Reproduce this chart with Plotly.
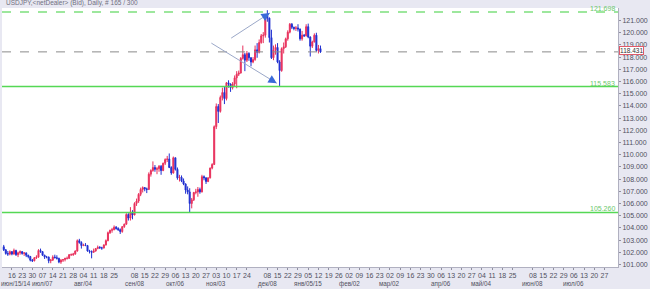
import plotly.graph_objects as go

# ---------------- data (daily USDJPY candles) ----------------
first_bar = -4  # bar index of first candle (Monday of week 0 = index 0, 5 bars per week)

opens = [102.45, 102.2, 101.9, 101.85,
         102.05, 101.85, 102.15, 101.8, 101.95,
         102.05, 101.9, 101.95, 101.75, 101.65,
         101.35, 101.3, 101.55, 101.6, 102.15,
         102.05, 101.75, 101.6, 101.6, 101.3,
         101.35, 101.6, 101.55, 101.5, 101.2,
         101.35, 101.4, 101.5, 101.5, 101.8,
         101.8, 101.85, 102.1, 102.95, 102.8,
         102.55, 102.6, 102.55, 102.1, 102.05,
         102.0, 102.1, 102.3, 102.4, 102.35,
         102.35, 102.6, 102.95, 103.6, 103.8,
         103.85, 104.05, 103.95, 103.85, 103.7,
         104.1, 104.3, 105.1, 104.8, 105.3,
         105.05, 106.0, 106.2, 106.75, 107.15,
         107.3, 107.2, 107.15, 108.4, 108.7,
         108.95, 108.8, 108.85, 109.05, 108.7,
         109.3, 109.6, 109.65, 108.95, 108.5,
         109.75, 108.8, 108.1, 108.15, 107.85,
         107.6, 107.1, 106.95, 106.0, 106.3,
         106.9, 106.95, 107.15, 106.95, 108.2,
         108.1, 107.8, 108.1, 108.9, 109.2,
         112.3, 113.95, 113.55, 114.7, 115.1,
         114.6, 115.9, 115.8, 115.5, 115.8,
         116.3, 116.6, 116.7, 117.9, 118.2,
         117.75, 118.3, 117.95, 117.6, 117.8,
         118.6, 118.4, 119.2, 119.75, 119.8,
         121.4, 121.2, 119.6, 117.95, 118.6,
         118.8, 117.6, 116.9, 118.7, 118.85,
         119.5, 120.05, 120.7, 120.45, 120.35,
         120.4, 120.3, 119.5, 119.8, 119.75,
         120.5, 119.65, 118.9, 119.25, 119.8,
         118.55, 118.7]

highs = [102.6, 102.25, 102.1, 102.15,
         102.1, 102.3, 102.2, 102.05, 102.15,
         102.1, 102.0, 101.95, 101.8, 101.7,
         101.45, 101.6, 101.75, 102.25, 102.3,
         102.1, 101.8, 101.7, 101.65, 101.45,
         101.75, 101.8, 101.75, 101.55, 101.45,
         101.45, 101.55, 101.65, 101.85, 101.9,
         101.95, 102.15, 103.05, 103.1, 102.9,
         102.7, 102.75, 102.6, 102.2, 102.15,
         102.3, 102.35, 102.55, 102.5, 102.45,
         102.65, 103.05, 103.7, 103.85, 104.0,
         104.2, 104.15, 104.05, 103.95, 104.15,
         104.35, 105.2, 105.2, 105.7, 105.45,
         106.1, 106.4, 106.85, 107.3, 107.4,
         107.35, 107.3, 108.55, 108.8, 109.45,
         109.15, 109.0, 109.15, 109.15, 109.35,
         109.7, 109.9, 110.1, 109.05, 109.85,
         109.75, 108.95, 108.35, 108.3, 108.05,
         107.65, 107.4, 107.25, 106.45, 106.95,
         107.2, 107.35, 107.3, 108.35, 108.3,
         108.15, 108.15, 108.95, 109.3, 112.4,
         114.2, 114.15, 114.85, 115.5, 115.55,
         115.95, 116.1, 115.85, 115.95, 116.5,
         116.85, 116.9, 118.0, 118.95, 118.35,
         118.5, 118.4, 118.0, 118.0, 118.95,
         119.15, 119.45, 119.9, 120.05, 121.45,
         121.85, 121.25, 120.25, 118.95, 119.05,
         119.15, 117.75, 118.8, 119.2, 119.6,
         120.2, 120.8, 120.8, 120.5, 120.55,
         120.7, 120.35, 120.15, 119.9, 120.7,
         120.75, 119.7, 119.35, 119.95, 120.0,
         119.0, 118.95]

lows = [102.1, 101.8, 101.7, 101.75,
        101.75, 101.8, 101.7, 101.6, 101.8,
        101.8, 101.7, 101.6, 101.5, 101.25,
        101.2, 101.25, 101.45, 101.55, 101.95,
        101.7, 101.45, 101.5, 101.1, 101.1,
        101.3, 101.5, 101.4, 101.1, 101.05,
        101.2, 101.25, 101.4, 101.45, 101.7,
        101.7, 101.8, 102.05, 102.7, 102.3,
        102.5, 102.5, 102.05, 101.9, 101.5,
        101.95, 102.05, 102.25, 102.3, 102.2,
        102.3, 102.55, 102.9, 103.5, 103.6,
        103.8, 103.85, 103.75, 103.5, 103.6,
        104.0, 104.25, 104.6, 104.6, 104.7,
        105.05, 105.8, 106.05, 106.6, 106.9,
        107.0, 106.85, 107.1, 108.2, 108.6,
        108.6, 108.4, 108.6, 108.35, 108.65,
        109.15, 109.4, 108.9, 108.35, 108.45,
        108.7, 107.95, 107.8, 107.75, 107.5,
        106.8, 106.75, 105.26, 105.6, 106.2,
        106.75, 106.55, 106.8, 106.9, 107.9,
        107.6, 107.75, 108.05, 108.8, 109.15,
        112.1, 112.6, 113.45, 114.45, 114.15,
        114.45, 115.5, 115.15, 115.35, 115.6,
        115.45, 116.45, 116.65, 117.8, 116.85,
        117.6, 117.7, 117.25, 117.5, 117.7,
        117.95, 118.3, 119.1, 119.15, 119.6,
        120.9, 119.2, 117.85, 117.75, 118.2,
        117.5, 115.57, 116.8, 118.3, 118.75,
        119.35, 119.95, 120.3, 120.2, 120.15,
        120.1, 119.35, 119.35, 119.65, 119.7,
        119.55, 118.05, 118.75, 119.2, 118.45,
        118.3, 118.35]

closes = [102.2, 101.9, 101.85, 102.05,
          101.85, 102.15, 101.8, 101.95, 102.05,
          101.9, 101.95, 101.75, 101.65, 101.35,
          101.3, 101.55, 101.6, 102.15, 102.05,
          101.75, 101.6, 101.6, 101.3, 101.35,
          101.6, 101.55, 101.5, 101.2, 101.35,
          101.4, 101.5, 101.5, 101.8, 101.8,
          101.85, 102.1, 102.95, 102.8, 102.55,
          102.6, 102.55, 102.1, 102.05, 102.0,
          102.1, 102.3, 102.4, 102.35, 102.35,
          102.6, 102.95, 103.6, 103.8, 103.85,
          104.05, 103.95, 103.85, 103.7, 104.1,
          104.3, 105.1, 104.8, 105.3, 105.05,
          106.0, 106.2, 106.75, 107.15, 107.3,
          107.2, 107.15, 108.4, 108.7, 108.95,
          108.8, 108.85, 109.05, 108.7, 109.3,
          109.6, 109.65, 108.95, 108.5, 109.75,
          108.8, 108.1, 108.15, 107.85, 107.6,
          107.1, 106.95, 106.0, 106.3, 106.9,
          106.95, 107.15, 106.95, 108.2, 108.1,
          107.8, 108.1, 108.9, 109.2, 112.3,
          113.95, 113.55, 114.7, 115.1, 114.6,
          115.9, 115.8, 115.5, 115.8, 116.3,
          116.6, 116.7, 117.9, 118.2, 117.75,
          118.3, 117.95, 117.6, 117.8, 118.6,
          118.4, 119.2, 119.75, 119.8, 121.4,
          121.2, 119.6, 117.95, 118.6, 118.8,
          117.6, 116.9, 118.7, 118.85, 119.5,
          120.05, 120.7, 120.45, 120.35, 120.4,
          120.3, 119.5, 119.8, 119.75, 120.5,
          119.65, 118.9, 119.25, 119.8, 118.55,
          118.7, 118.43]

# weekly x tick labels (week number from Jun 16 2014, Monday day label, month label)
week_nums = [0, 1, 2, 3, 4, 5, 6, 7, 8, 9, 10, 12, 13, 14, 15, 16, 17, 18, 19, 20, 21, 22, 23,
             25, 26, 27, 28, 29, 30, 31, 32, 33, 34, 35, 36, 37, 38, 39, 40, 41, 42, 43, 44, 45,
             46, 47, 48, 49, 51, 52, 53, 54, 55, 56, 57, 58]
day_labels = ["16", "23", "30", "07", "14", "21", "28", "04", "11", "18", "25", "08", "15", "22",
              "29", "06", "13", "20", "27", "03", "10", "17", "24", "08", "15", "22", "29", "05",
              "12", "19", "26", "02", "09", "16", "23", "02", "09", "16", "23", "30", "06", "13",
              "20", "27", "04", "11", "18", "25", "08", "15", "22", "29", "06", "13", "20", "27"]
first_month_label = "июн/15/14"
month_weeks = [3, 7, 12, 16, 20, 25, 29, 33, 37, 42, 46, 51, 55]
month_texts = ["июл/07", "авг/04", "сен/08", "окт/06", "ноя/03", "дек/08", "янв/05/15",
               "фев/02", "мар/02", "апр/06", "май/04", "июн/08", "июл/06"]

price_ticks = list(range(101, 122))
level_dashed = 121.698
level_lines = [115.583, 105.260]
current_price = 118.431
title_text = "USDJPY,&lt;netDealer&gt; (Bid), Daily, # 165 / 300"

# trend arrows: (tail bar, tail price, head bar, head price)
arrows = [(107.3, 119.56, 126.2, 121.62),
          (97.6, 119.15, 129.6, 115.86)]

BARS_PER_WEEK = 5
X_RANGE = [-4.85, 296.6]
Y_RANGE = [100.79, 122.03]

# ---------------- figure ----------------
x_idx = list(range(first_bar, first_bar + len(closes)))

fig = go.Figure()
fig.add_trace(go.Candlestick(
    x=x_idx, open=opens, high=highs, low=lows, close=closes,
    increasing=dict(fillcolor="#e8305c", line=dict(color="#e8305c", width=1)),
    decreasing=dict(fillcolor="#1f2fd0", line=dict(color="#1f2fd0", width=1)),
    whiskerwidth=0, showlegend=False, hoverinfo="skip"))

shapes = []
annotations = []
# level lines
shapes.append(dict(type="line", xref="paper", x0=0, x1=1, yref="y", y0=level_dashed, y1=level_dashed,
                   line=dict(color="#7ee07e", width=1.5, dash="dash")))
annotations.append(dict(xref="paper", x=0.998, yref="y", y=level_dashed, xanchor="right", yanchor="bottom",
                        text=f"{level_dashed:.3f}", showarrow=False, font=dict(size=7, color="#6cc86c"),
                        yshift=-2))
for lv in level_lines:
    shapes.append(dict(type="line", xref="paper", x0=0, x1=1, yref="y", y0=lv, y1=lv,
                       line=dict(color="#55d855", width=1.5)))
    annotations.append(dict(xref="paper", x=0.998, yref="y", y=lv, xanchor="right", yanchor="bottom",
                            text=f"{lv:.3f}", showarrow=False, font=dict(size=7, color="#6cc86c"),
                            yshift=-2))
shapes.append(dict(type="line", xref="paper", x0=0, x1=1, yref="y", y0=current_price, y1=current_price,
                   line=dict(color="#8a8a8a", width=1, dash="dash")))
annotations.append(dict(xref="paper", x=1.0, yref="y", y=current_price, xanchor="left", yanchor="middle",
                        text=f"{current_price:.3f}", showarrow=False, font=dict(size=6.5, color="#333333"),
                        bgcolor="#ffffff", bordercolor="#e05a6a", borderwidth=1, borderpad=0,
                        xshift=1, yshift=1))

# trend arrows
for (x0, y0, x1, y1) in arrows:
    shapes.append(dict(type="line", xref="x", yref="y", x0=x0, y0=y0, x1=x1, y1=y1,
                       line=dict(color="#9ba8c8", width=1)))
    annotations.append(dict(xref="x", yref="y", x=x1, y=y1, axref="x", ayref="y",
                            ax=x1 - (x1 - x0) * 0.12, ay=y1 - (y1 - y0) * 0.12,
                            showarrow=True, arrowhead=2, arrowsize=1.4, arrowwidth=1.2,
                            arrowcolor="#3a6ad8", text=""))

# title
annotations.append(dict(xref="paper", yref="paper", x=0.0, y=1.0, xanchor="left", yanchor="bottom",
                        text=title_text, showarrow=False, font=dict(size=6.5, color="#707080"),
                        yshift=-1, xshift=2))

# month labels (second row under the day labels)
annotations.append(dict(xref="paper", yref="paper", x=0.0, y=0.0, xanchor="left", yanchor="top",
                        text=first_month_label, showarrow=False, font=dict(size=6.3, color="#505060"),
                        yshift=-11, xshift=-3))
for w, t in zip(month_weeks, month_texts):
    annotations.append(dict(xref="x", yref="paper", x=w * BARS_PER_WEEK, y=0.0, xanchor="center",
                            yanchor="top", text=t, showarrow=False, font=dict(size=6.3, color="#505060"),
                            yshift=-11))

tickvals = [w * BARS_PER_WEEK for w in week_nums]

fig.update_layout(
    width=650, height=289,
    margin=dict(l=2, r=27, t=8, b=22),
    paper_bgcolor="#e8e8f2", plot_bgcolor="#ffffff",
    font=dict(family="Liberation Sans, Arial, sans-serif", size=7, color="#505060"),
    shapes=shapes, annotations=annotations, showlegend=False,
    xaxis=dict(range=X_RANGE, tickmode="array", tickvals=tickvals, ticktext=day_labels,
               showgrid=False, zeroline=False, rangeslider=dict(visible=False),
               ticks="outside", ticklen=2, tickcolor="#9090a0", tickangle=0,
               showline=True, linecolor="#b0b0c0", tickfont=dict(size=7, color="#505060")),
    yaxis=dict(range=Y_RANGE, side="right", tickmode="array", tickvals=price_ticks,
               ticktext=[f"{p:.3f}" for p in price_ticks], showgrid=False, zeroline=False,
               ticks="outside", ticklen=2, tickcolor="#9090a0",
               showline=True, linecolor="#b0b0c0", tickfont=dict(size=7, color="#505060")),
)

fig.write_html("out.html")
